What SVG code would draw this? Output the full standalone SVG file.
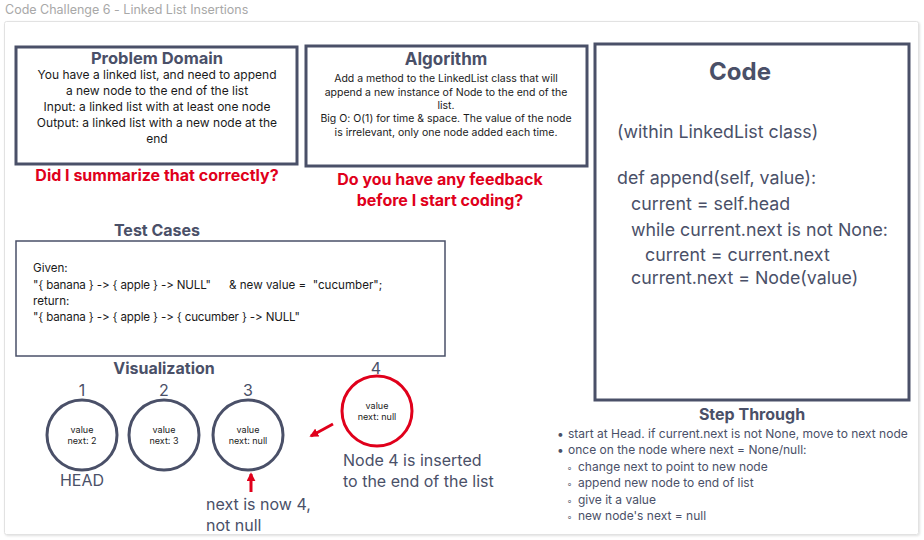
<svg xmlns="http://www.w3.org/2000/svg" width="924" height="540" viewBox="0 0 924 540">
<defs>
<style>
text{font-family:Inter,"Noto Sans",sans-serif;font-feature-settings:"calt" 0,"liga" 0;font-variant-ligatures:none}
.ttl{font-weight:bold;fill:#4a5068;text-anchor:middle}
.box{fill:#fff;stroke:#4a5068;stroke-width:3}
.thin{fill:#fff;stroke:#4a5068;stroke-width:1.5}
.body{fill:#1a1a1a}
.red{fill:#e0001b;font-weight:bold;text-anchor:middle;font-size:16px}
.node{fill:#fff;stroke:#4a5068;stroke-width:3}
.nt{font-size:9px;fill:#1a1a1a;text-anchor:middle}
.num{font-size:16px;fill:#4a5068;text-anchor:middle}
.slate{fill:#4a5068}
.arr{stroke:#e0001b;stroke-width:3;fill:none}
</style>
<marker id="ah" viewBox="0 0 10 10" refX="8" refY="5" markerWidth="3" markerHeight="3" orient="auto"><path d="M0,0 L10,5 L0,10 z" fill="#e0001b"/></marker>
<filter id="sh" x="-5%" y="-5%" width="110%" height="110%"><feDropShadow dx="1" dy="1" stdDeviation="1" flood-color="#000" flood-opacity="0.12"/></filter>
</defs>
<rect width="924" height="540" fill="#fff"/>
<text x="5" y="14" font-size="12.5" fill="#a8a8a8">Code Challenge 6 - Linked List Insertions</text>
<rect x="4.5" y="21.5" width="914" height="513" rx="2" fill="#fff" stroke="#e2e2e2" filter="url(#sh)"/>

<g id="problem-domain">
<rect class="box" x="16" y="47" width="281" height="117"/>
<text class="ttl" x="157" y="64" font-size="16.5">Problem Domain</text>
<g class="body" font-size="12" text-anchor="middle">
<text x="157" y="79">You have a linked list, and need to append</text>
<text x="157" y="95">a new node to the end of the list</text>
<text x="157" y="111">Input: a linked list with at least one node</text>
<text x="157" y="127">Output: a linked list with a new node at the</text>
<text x="157" y="143">end</text>
</g>
<text class="red" x="157" y="181">Did I summarize that correctly?</text>
</g>

<g id="algorithm">
<rect class="box" x="306" y="46" width="281" height="120"/>
<text class="ttl" x="446" y="65" font-size="17">Algorithm</text>
<g class="body" font-size="10.5" text-anchor="middle">
<text x="446" y="82">Add a method to the LinkedList class that will</text>
<text x="446" y="96">append a new instance of Node to the end of the</text>
<text x="446" y="109">list.</text>
<text x="446" y="122">Big O: O(1) for time &amp; space. The value of the node</text>
<text x="446" y="136">is irrelevant, only one node added each time.</text>
</g>
<text class="red" x="440" y="185">Do you have any feedback</text>
<text class="red" x="440" y="206">before I start coding?</text>
</g>

<g id="code">
<rect class="box" x="595" y="44" width="314" height="356"/>
<text class="ttl" x="740" y="80" font-size="24">Code</text>
<g class="slate" font-size="17.8">
<text x="617" y="138">(within LinkedList class)</text>
<text x="617" y="184">def append(self, value):</text>
<text x="631" y="210">current = self.head</text>
<text x="631" y="236">while current.next is not None:</text>
<text x="645" y="261">current = current.next</text>
<text x="631" y="284">current.next = Node(value)</text>
</g>
</g>

<g id="test-cases">
<text class="ttl" x="157" y="236" font-size="16">Test Cases</text>
<rect class="thin" x="16" y="241" width="429" height="115"/>
<g class="body" font-size="11.6">
<text x="33" y="272">Given:</text>
<text x="33" y="289" letter-spacing="-0.15">"{ banana } -&gt; { apple } -&gt; NULL"</text>
<text x="229" y="289" xml:space="preserve">&amp; new value =  "cucumber";</text>
<text x="33" y="305">return:</text>
<text x="33" y="321" letter-spacing="-0.15">"{ banana } -&gt; { apple } -&gt; { cucumber } -&gt; NULL"</text>
</g>
</g>

<text class="ttl" x="164" y="374" font-size="16">Visualization</text>

<g id="node1">
<text class="num" x="82" y="396">1</text>
<circle class="node" cx="82" cy="435" r="35"/>
<text class="nt" x="82" y="433">value</text>
<text class="nt" x="82" y="444">next: 2</text>
<text class="slate" x="82" y="486" font-size="16" text-anchor="middle">HEAD</text>
</g>
<g id="node2">
<text class="num" x="164" y="396">2</text>
<circle class="node" cx="164" cy="435" r="35"/>
<text class="nt" x="164" y="433">value</text>
<text class="nt" x="164" y="444">next: 3</text>
</g>
<g id="node3">
<text class="num" x="248" y="396">3</text>
<circle class="node" cx="248" cy="435" r="35"/>
<text class="nt" x="248" y="433">value</text>
<text class="nt" x="248" y="444">next: null</text>
</g>
<g id="node4">
<text class="num" x="376" y="374">4</text>
<circle cx="377" cy="411" r="35" fill="#fff" stroke="#e0001b" stroke-width="3"/>
<text class="nt" x="377" y="409">value</text>
<text class="nt" x="377" y="420">next: null</text>
</g>

<g id="connectors">
<line class="arr" x1="251" y1="492" x2="251" y2="474" marker-end="url(#ah)"/>
<line class="arr" x1="333" y1="424" x2="311" y2="436" marker-end="url(#ah)"/>
</g>

<g class="slate" font-size="16">
<text x="206" y="510">next is now 4,</text>
<text x="206" y="531">not null</text>
<text x="343" y="466">Node 4 is inserted</text>
<text x="343" y="487">to the end of the list</text>
</g>

<g id="step-through">
<text class="ttl" x="752" y="420" font-size="16">Step Through</text>
<g class="slate" font-size="12">
<text x="557" y="438">•</text><text x="568" y="438">start at Head. if current.next is not None, move to next node</text>
<text x="557" y="454">•</text><text x="568" y="454">once on the node where next = None/null:</text>
<text x="567" y="471" font-size="9">◦</text><text x="578" y="471">change next to point to new node</text>
<text x="567" y="487" font-size="9">◦</text><text x="578" y="487">append new node to end of list</text>
<text x="567" y="504" font-size="9">◦</text><text x="578" y="504">give it a value</text>
<text x="567" y="520" font-size="9">◦</text><text x="578" y="520">new node's next = null</text>
</g>
</g>
</svg>
